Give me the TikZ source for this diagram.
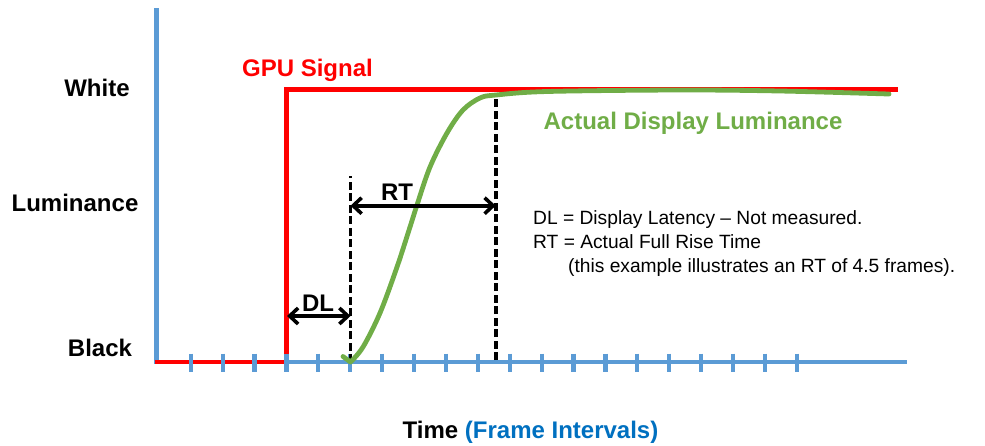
\documentclass[tikz,border=0pt]{standalone}
\usepackage{fontspec}
\setmainfont{Liberation Sans}
\usetikzlibrary{arrows.meta}
\definecolor{axisblue}{HTML}{5B9BD5}
\definecolor{lumgreen}{HTML}{70AD47}
\definecolor{sigred}{HTML}{FF0000}
\definecolor{labelblue}{HTML}{0070C0}

\begin{document}
\begin{tikzpicture}[x=1pt,y=-1pt,
    axis/.style={axisblue,line width=4.6pt},
    tick/.style={axisblue,line width=4.2pt},
    signal/.style={sigred,line width=4.6pt},
    lum/.style={lumgreen,line width=4.8pt,line cap=round,line join=round},
    marker/.style={black,line width=3.9pt,dash pattern=on 8pt off 3.5pt},
    span/.style={black,line width=3.6pt,{Straight Barb[length=8.5pt,width=16pt]}-{Straight Barb[length=8.5pt,width=16pt]}},
    big/.style={font=\fontsize{24}{28}\selectfont\bfseries,inner sep=0pt,anchor=base},
    note/.style={font=\fontsize{19.2}{23}\selectfont,inner sep=0pt,anchor=base west}]
    \useasboundingbox (0,0) rectangle (985,445);
    \coordinate (ytop) at (156.5,8);
    \coordinate (O) at (156.5,362);
    \coordinate (xend) at (907,362);
    \coordinate (s0) at (154.5,362);
    \coordinate (s1) at (286.5,362);
    \coordinate (s2) at (286.5,89.5);
    \coordinate (s3) at (898,89.5);
    \coordinate (dlB) at (350.5,362);
    \coordinate (dlT) at (350.5,176);
    \coordinate (rtB) at (495.7,360);
    \coordinate (rtT) at (495.7,95);
    \coordinate (dlL) at (287,316);
    \coordinate (dlR) at (350.5,316);
    \coordinate (rtL) at (350.5,205.7);
    \coordinate (rtR) at (495.7,205.7);
    \draw[axis] (ytop) -- (O) -- (xend);
    \draw[signal] (s0) -- (s1) -- (s2) -- (s3);
    \foreach \k in {0,...,19}
        \draw[tick] (190.7+31.9*\k,353.5) -- ++(0,18);
    \draw[marker] (dlB) -- (dlT);
    \draw[marker] (rtB) -- (rtT);
    \draw[lum] (343,356.5) -- plot[smooth,tension=0.55] coordinates {(350.5,362) (363,347) (380,313) (397,267) (410,227) (417,205) (430,167) (447,133) (463,110) (480,98) (496,95) (547,91.5) (680,90) (780,91) (889,94)};
    \draw[span] (dlL) -- (dlR);
    \draw[span] (rtL) -- (rtR);
    \node[big] (white) at (97,96) {White};
    \node[big] (lumin) at (75,211.5) {Luminance};
    \node[big] (black) at (100,356.7) {Black};
    \node[big,sigred] (gpu) at (307.5,76.5) {GPU Signal};
    \node[big,lumgreen] (actual) at (693,129) {Actual Display Luminance};
    \node[big] (dl) at (318,311.5) {DL};
    \node[big] (rt) at (397,200.7) {RT};
    \node[big] (time) at (530.5,438.3) {Time \textcolor{labelblue}{(Frame Intervals)}};
    \node[note] (n1) at (533,224.3) {DL = Display Latency – Not measured.};
    \node[note] (n2) at (533,248.3) {RT = Actual Full Rise Time};
    \node[note] (n3) at (568,272.3) {(this example illustrates an RT of 4.5 frames).};
\end{tikzpicture}
\end{document}
